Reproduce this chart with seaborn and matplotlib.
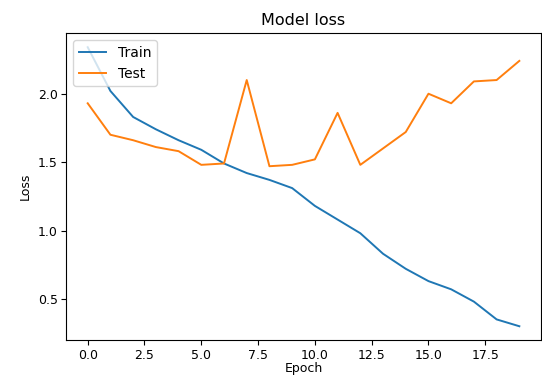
import matplotlib
matplotlib.use("Agg")
import matplotlib.pyplot as plt
from matplotlib.ticker import MultipleLocator
import pandas as pd
import seaborn as sns

# loss values
epochs = list(range(20))
train_loss = [2.34, 2.02, 1.83, 1.74, 1.66, 1.59, 1.49, 1.42, 1.37, 1.31,
              1.18, 1.08, 0.98, 0.83, 0.72, 0.63, 0.57, 0.48, 0.35, 0.30]
test_loss = [1.93, 1.70, 1.66, 1.61, 1.58, 1.48, 1.49, 2.10, 1.47, 1.48,
             1.52, 1.86, 1.48, 1.60, 1.72, 2.00, 1.93, 2.09, 2.10, 2.24]

df = pd.DataFrame({
    'epoch': epochs * 2,
    'loss': train_loss + test_loss,
    'set': ['Train'] * len(epochs) + ['Test'] * len(epochs),
})

fig = plt.figure(figsize=(5.42, 3.78), dpi=100)
ax = fig.add_axes([0.122, 0.1, 0.876, 0.812])
sns.lineplot(x='epoch', y='loss', hue='set', data=df, ax=ax,
             palette=['#1f77b4', '#ff7f0e'], linewidth=1.4)

ax.set_title("Model loss", fontsize=11.5)
ax.set_xlabel("Epoch", fontsize=9, labelpad=0)
ax.set_ylabel("Loss", fontsize=9)
ax.tick_params(labelsize=9, pad=2.5)
ax.yaxis.set_major_locator(MultipleLocator(0.5))
ax.legend(loc='upper left', fontsize=10)

fig.savefig('out.png', dpi=100)
